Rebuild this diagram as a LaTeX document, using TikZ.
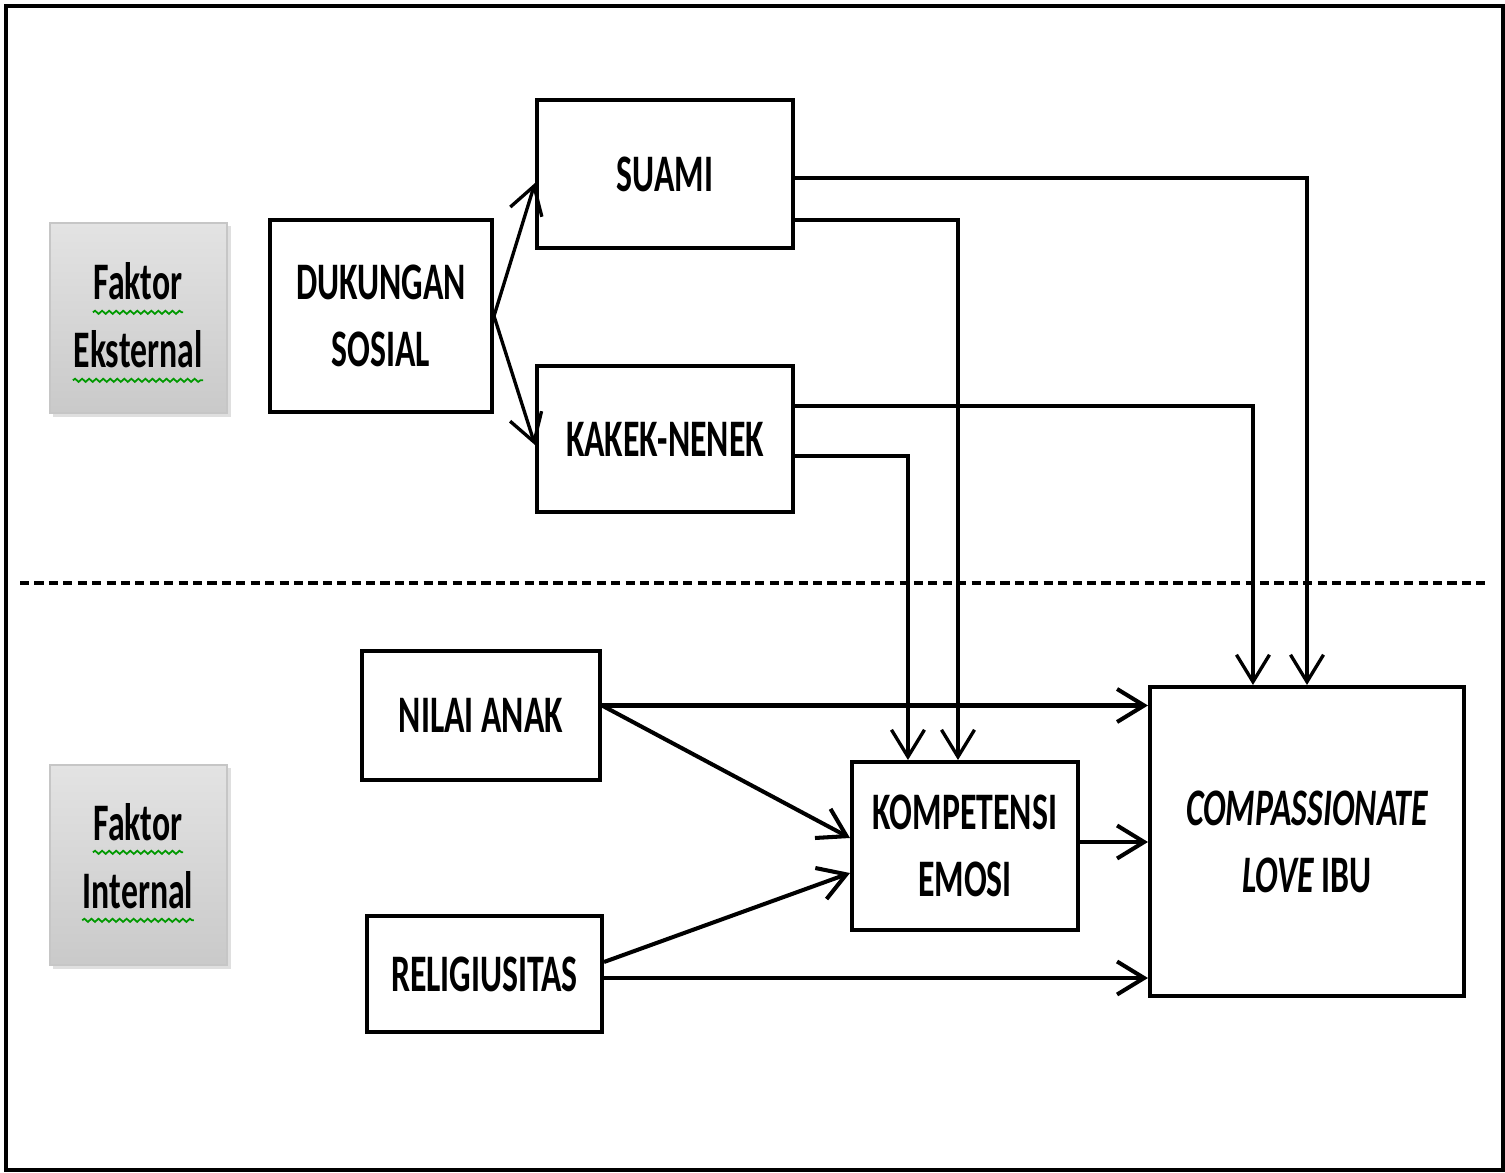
\documentclass[tikz,border=0pt]{standalone}
\usepackage{fontspec}
\setmainfont{Carlito}[FakeStretch=0.64]
\usetikzlibrary{arrows.meta, decorations.pathmorphing, shadows}

\tikzset{
  blok/.style={draw, line width=1.1pt, align=center, inner sep=2pt,
    font=\fontsize{15}{19}\selectfont\bfseries},
  faktor/.style={draw=gray!45, line width=0.6pt, top color=gray!22, bottom color=gray!42,
    drop shadow={shadow xshift=1pt, shadow yshift=-1pt, opacity=0.25}},
  faktorteks/.style={anchor=base, inner sep=0pt, font=\fontsize{15}{19}\selectfont\bfseries},
  ejaan/.style={draw=green!60!black, line width=0.5pt, decorate,
    decoration={snake, amplitude=0.45pt, segment length=2pt}},
  panah/.style={->, line width=0.95pt},
  panahtebal/.style={->, line width=1.15pt},
  batas/.style={line width=1.2pt, dash pattern=on 2.6pt off 1.5pt},
}

\begin{document}
\begin{tikzpicture}[x=0.01cm, y=-0.01cm, >={Straight Barb[length=2.7mm, width=3.3mm]}]
    \useasboundingbox (0,0) rectangle (1505,1173);
    \draw[line width=1.2pt] (6,6) rectangle (1503,1170);

    % faktor eksternal / internal
    \node[faktor, minimum width=1.77cm, minimum height=1.9cm] (eks) at (138.5,318) {};
    \node[faktorteks] (eks1) at (138,300) {Faktor};
    \node[faktorteks] (eks2) at (138,368) {Eksternal};
    \node[faktor, minimum width=1.77cm, minimum height=2cm] (int) at (138.5,865) {};
    \node[faktorteks] (int1) at (138,840) {Faktor};
    \node[faktorteks] (int2) at (138,908) {Internal};
    \draw[ejaan] ([yshift=-3.5pt]eks1.base west) -- ([yshift=-3.5pt]eks1.base east);
    \draw[ejaan] ([yshift=-3.5pt]eks2.base west) -- ([yshift=-3.5pt]eks2.base east);
    \draw[ejaan] ([yshift=-3.5pt]int1.base west) -- ([yshift=-3.5pt]int1.base east);
    \draw[ejaan] ([yshift=-3.5pt]int2.base west) -- ([yshift=-3.5pt]int2.base east);

    % kotak
    \node[blok, minimum width=2.22cm, minimum height=1.92cm] (dukungan) at (381,316) {DUKUNGAN\\SOSIAL};
    \node[blok, minimum width=2.56cm, minimum height=1.48cm] (suami) at (665,174) {SUAMI};
    \node[blok, minimum width=2.56cm, minimum height=1.46cm] (kakek) at (665,439) {KAKEK-NENEK};
    \node[blok, minimum width=2.38cm, minimum height=1.29cm] (nilai) at (481,715.5) {NILAI ANAK};
    \node[blok, minimum width=2.35cm, minimum height=1.16cm] (religi) at (484.5,974) {RELIGIUSITAS};
    \node[blok, minimum width=2.26cm, minimum height=1.68cm] (kompetensi) at (965,846) {KOMPETENSI\\EMOSI};
    \node[blok, minimum width=3.14cm, minimum height=3.09cm] (cl) at (1307,841.5)
        {\itshape COMPASSIONATE\\{\itshape LOVE} IBU};

    \draw[batas] (20,583) -- (1490,583);

    % panah
    \draw[panah] (dukungan.east) -- ([yshift=-0.09cm]suami.west);
    \draw[panah] (dukungan.east) -- ([yshift=-0.06cm]kakek.west);
    \draw[panah] ([yshift=-0.04cm]suami.east) -| (cl.north);
    \draw[panah] ([yshift=-0.46cm]suami.east) -| ([xshift=-0.07cm]kompetensi.north);
    \draw[panah] ([yshift=0.33cm]kakek.east) -| ([xshift=-0.54cm]cl.north);
    \draw[panah] ([yshift=-0.17cm]kakek.east) -| ([xshift=-0.57cm]kompetensi.north);

    \coordinate (n1) at ([yshift=0.1cm]nilai.east);
    \coordinate (r1) at ([yshift=0.12cm]religi.east);
    \coordinate (r2) at ([yshift=-0.04cm]religi.east);
    \draw[panahtebal] (n1) -- (n1 -| cl.west);
    \draw[panahtebal] (n1) -- ([yshift=0.08cm]kompetensi.west);
    \draw[panahtebal] (r1) -- ([yshift=-0.27cm]kompetensi.west);
    \draw[panahtebal] (r2) -- (r2 -| cl.west);
    \draw[panahtebal] ([yshift=0.04cm]kompetensi.east) -- ([yshift=0.04cm]kompetensi.east -| cl.west);
\end{tikzpicture}
\end{document}
